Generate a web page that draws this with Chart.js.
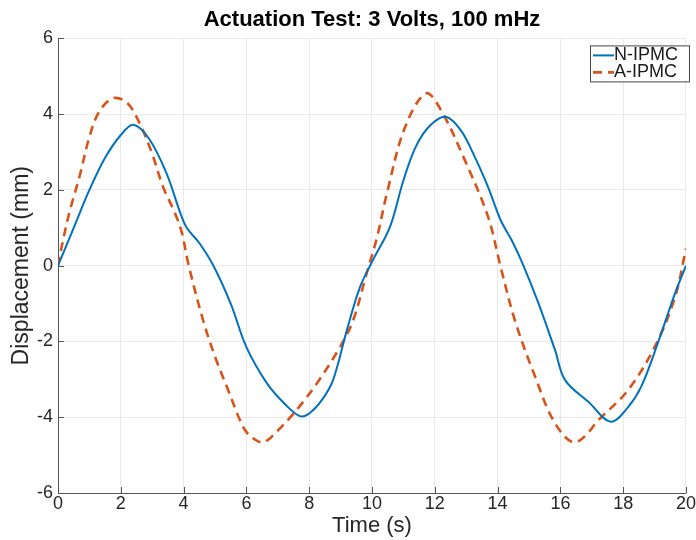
<!DOCTYPE html>
<html lang="en">
<head>
<meta charset="UTF-8">
<title>Actuation Test: 3 Volts, 100 mHz</title>
<script src="https://cdn.jsdelivr.net/npm/chart.js"></script>
<style>
  html, body { margin: 0; padding: 0; background: #fff; }
  #wrap { width: 696px; height: 540px; }
</style>
</head>
<body>
<div id="wrap"><canvas id="actuationChart" width="696" height="540"></canvas></div>
<script>
// values
const nTime = [0, 0.5, 1.0, 1.5, 2.0, 2.4, 2.9, 3.45, 3.9, 4.1, 4.5, 4.95, 5.5, 6.0, 6.65, 7.2, 7.7, 8.0, 8.4, 8.76, 9.2, 9.62, 10.03, 10.57, 11.0, 11.4, 11.85, 12.35, 12.83, 13.28, 13.7, 14.1, 14.45, 14.8, 15.3, 15.83, 16.15, 16.9, 17.6, 18.15, 18.57, 19.1, 19.65, 20];
const nDisp = [0, 1.0, 2.0, 2.85, 3.45, 3.72, 3.35, 2.45, 1.38, 1.0, 0.6, 0.0, -1.0, -2.15, -3.1, -3.63, -3.97, -3.9, -3.55, -3.02, -1.7, -0.56, 0.15, 1.02, 2.25, 3.15, 3.7, 3.93, 3.57, 2.86, 2.07, 1.2, 0.67, 0.05, -0.99, -2.23, -3.02, -3.6, -4.12, -3.74, -3.2, -2.05, -0.73, 0];

const aTime = [0, 0.16, 0.38, 0.7, 1.0, 1.3, 1.75, 2.2, 2.6, 3.0, 3.35, 3.73, 3.95, 4.15, 4.62, 5.0, 5.38, 5.9, 6.2, 6.55, 7.0, 7.4, 7.8, 8.25, 8.98, 9.4, 9.83, 10.16, 10.5, 11.05, 11.72, 12.2, 12.96, 13.7, 14.1, 14.55, 15.2, 15.83, 16.47, 17.3, 18.15, 19.0, 19.65, 20];
const aDisp = [0, 0.67, 1.46, 2.4, 3.4, 4.05, 4.42, 4.3, 3.76, 2.95, 2.07, 1.38, 0.85, 0.05, -1.44, -2.4, -3.2, -4.26, -4.55, -4.66, -4.35, -4.0, -3.6, -3.1, -2.15, -1.44, -0.2, 0.75, 2.0, 3.65, 4.55, 4.1, 2.78, 1.28, -0.04, -1.44, -2.94, -4.16, -4.66, -4.0, -3.29, -2.15, -0.83, 0.45];

const xTicks = [0, 2, 4, 6, 8, 10, 12, 14, 16, 18, 20];
const yTicks = [-6, -4, -2, 0, 2, 4, 6];

const toPoints = (xs, ys) => xs.map((x, i) => ({ x: x, y: ys[i] }));

// MATLAB style inward tick marks on the left and bottom axes
const innerTicks = {
    id: 'innerTicks',
    afterDatasetsDraw(chart) {
        const { ctx, chartArea, scales } = chart;
        ctx.save();
        ctx.strokeStyle = '#555';
        ctx.lineWidth = 1;
        ctx.beginPath();
        xTicks.forEach(v => {
            const px = Math.round(scales.x.getPixelForValue(v)) + 0.5;
            ctx.moveTo(px, chartArea.bottom);
            ctx.lineTo(px, chartArea.bottom - 6);
        });
        yTicks.forEach(v => {
            const py = Math.round(scales.y.getPixelForValue(v)) + 0.5;
            ctx.moveTo(chartArea.left, py);
            ctx.lineTo(chartArea.left + 6, py);
        });
        ctx.stroke();
        ctx.restore();
    }
};

// boxed legend in the upper right corner
const boxLegend = {
    id: 'boxLegend',
    afterDraw(chart) {
        const { ctx, chartArea } = chart;
        const left = chartArea.right - 96, top = chartArea.top + 7;
        const w = 99, h = 36;
        ctx.save();
        ctx.fillStyle = '#fff';
        ctx.fillRect(left, top, w, h);
        ctx.strokeStyle = '#444';
        ctx.lineWidth = 1;
        ctx.strokeRect(left + 0.5, top + 0.5, w, h);
        ctx.font = '18px "Liberation Sans", Arial, sans-serif';
        ctx.textBaseline = 'middle';
        ctx.textAlign = 'left';
        chart.data.datasets.forEach((ds, i) => {
            const y = top + 10 + i * 17;
            ctx.strokeStyle = ds.borderColor;
            ctx.lineWidth = ds.borderWidth;
            ctx.setLineDash(ds.borderDash || []);
            ctx.beginPath();
            ctx.moveTo(left + 3, y);
            ctx.lineTo(left + 24, y);
            ctx.stroke();
            ctx.setLineDash([]);
            ctx.fillStyle = '#1a1a1a';
            ctx.fillText(ds.label, left + 24, y);
        });
        ctx.restore();
    }
};

const ctx = document.getElementById('actuationChart').getContext('2d');
const actuationChart = new Chart(ctx, {
    type: 'line',
    data: {
        datasets: [{
            label: 'N-IPMC',
            data: toPoints(nTime, nDisp),
            borderColor: '#0072BD',
            borderWidth: 2,
            pointRadius: 0,
            tension: 0.35,
            fill: false
        }, {
            label: 'A-IPMC',
            data: toPoints(aTime, aDisp),
            borderColor: '#D95319',
            borderWidth: 2.6,
            borderDash: [9, 6],
            pointRadius: 0,
            tension: 0.35,
            fill: false
        }]
    },
    options: {
        responsive: false,
        animation: false,
        layout: { padding: { left: 0, right: 10, top: 0, bottom: 0 } },
        plugins: {
            legend: { display: false },
            tooltip: { enabled: false },
            title: {
                display: true,
                fullSize: false,
                text: 'Actuation Test: 3 Volts, 100 mHz',
                color: '#000',
                font: { family: '"Liberation Sans", Arial, sans-serif', size: 22, weight: 'bold' },
                padding: { top: 7, bottom: 5 }
            }
        },
        scales: {
            x: {
                type: 'linear',
                min: 0,
                max: 20,
                afterFit: s => { s.height = 47; },
                afterBuildTicks: s => { s.ticks = xTicks.map(v => ({ value: v })); },
                ticks: {
                    color: '#262626',
                    padding: 0,
                    maxRotation: 0,
                    font: { family: '"Liberation Sans", Arial, sans-serif', size: 18 }
                },
                grid: { color: '#e9e9e9', drawTicks: false },
                border: { color: '#555', width: 1 },
                title: {
                    display: true,
                    text: 'Time (s)',
                    color: '#262626',
                    font: { family: '"Liberation Sans", Arial, sans-serif', size: 22 },
                    padding: { top: 0, bottom: 1 }
                }
            },
            y: {
                type: 'linear',
                min: -6,
                max: 6,
                afterFit: s => { s.width = 58; },
                afterBuildTicks: s => { s.ticks = yTicks.map(v => ({ value: v })); },
                ticks: {
                    color: '#262626',
                    padding: 5,
                    font: { family: '"Liberation Sans", Arial, sans-serif', size: 18 }
                },
                grid: { color: '#e9e9e9', drawTicks: false },
                border: { color: '#555', width: 1 },
                title: {
                    display: true,
                    text: 'Displacement (mm)',
                    color: '#262626',
                    font: { family: '"Liberation Sans", Arial, sans-serif', size: 23 },
                    padding: { top: 8, bottom: 0 }
                }
            }
        }
    },
    plugins: [innerTicks, boxLegend]
});
</script>
</body>
</html>
